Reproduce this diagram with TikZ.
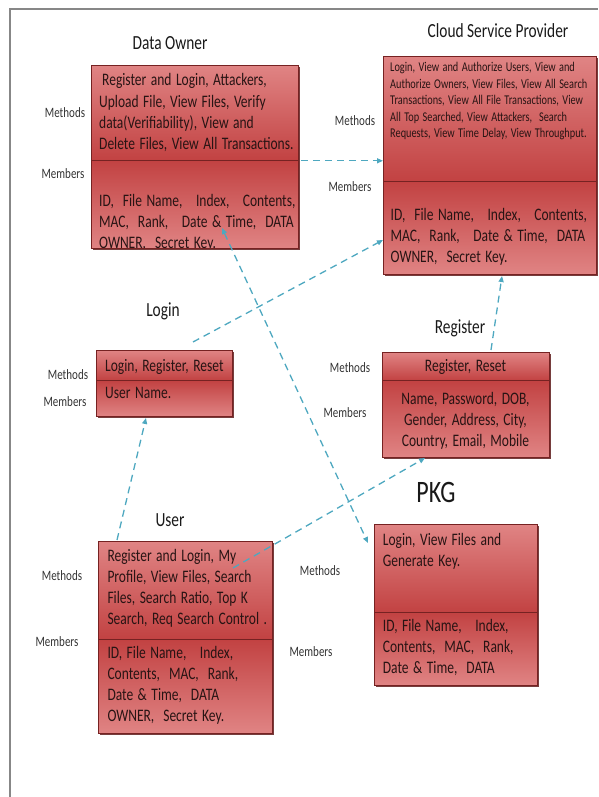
\documentclass[tikz,border=0pt]{standalone}
\usepackage{fontspec}
\setmainfont{Carlito}
\usetikzlibrary{arrows.meta,shadows}
\definecolor{BoxLight}{RGB}{224,132,132}
\definecolor{BoxDark}{RGB}{194,66,66}
\definecolor{BoxEdge}{RGB}{118,34,34}
\definecolor{BoxInk}{RGB}{40,20,20}
\definecolor{FlowCyan}{RGB}{78,168,192}
\definecolor{FrameGray}{RGB}{135,135,135}

\tikzset{
  compart/.style={rectangle, draw=BoxEdge, line width=0.8pt, inner sep=0pt, anchor=north west,
    drop shadow={shadow xshift=1.6pt, shadow yshift=-1.6pt, fill=BoxEdge!80!black, opacity=0.85}},
  methpart/.style={compart, top color=BoxLight, bottom color=BoxDark},
  membpart/.style={compart, top color=BoxDark, bottom color=BoxLight},
  boxtext/.style={inner sep=0pt, yscale=1.3, anchor=base west, align=left, text=BoxInk,
    font=\fontsize{13.5}{16.2}\selectfont},
  smalltext/.style={boxtext, font=\fontsize{10.3}{12.7}\selectfont},
  sidelabel/.style={inner sep=0pt, yscale=1.3, text=black!80, font=\fontsize{11}{13}\selectfont},
  boxtitle/.style={inner sep=0pt, yscale=1.3, text=black!90, font=\fontsize{15.4}{18}\selectfont},
  flow/.style={draw=FlowCyan, line width=1.3pt, dash pattern=on 7pt off 5pt,
    -{Triangle[length=6pt,width=5pt]}},
  flowboth/.style={flow, {Triangle[length=6pt,width=5pt]}-{Triangle[length=6pt,width=5pt]}},
}

\begin{document}
\begin{tikzpicture}[x=1pt,y=-1pt]
  \useasboundingbox (0,0) rectangle (598,797);
  % page frame
  \draw[FrameGray, line width=1.5pt] (10,797) -- (10,9) -- (598,9);

  % Data Owner
  \node[boxtitle] (doTitle) at (170,43) {Data Owner};
  \node[methpart, minimum width=207pt, minimum height=95pt] (doMeth) at (91,65) {};
  \node[membpart, minimum width=207pt, minimum height=88pt] (doMemb) at (91,160) {};
  \node[boxtext, text width=200pt] (doMethTxt) at (99,86)
    {\hspace{3pt}Register and Login, Attackers,\\Upload File, View Files, Verify\\data(Verifiability), View and\\Delete Files, View All Transactions.};
  \begin{scope}
    \clip (doMemb.north west) rectangle ([yshift=1pt]doMemb.south east);
    \node[boxtext, text width=200pt] (doMembTxt) at (99,206)
      {ID,\ \ File Name,\ \ \ Index,\ \ \ Contents,\\MAC,\ \ Rank,\ \ \ Date \& Time,\ \ DATA\\OWNER,\ \ Secret Key.};
  \end{scope}
  \node[sidelabel] (doMethLbl) at (65,113) {Methods};
  \node[sidelabel] (doMembLbl) at (63,174) {Members};

  % Cloud Service Provider
  \node[boxtitle] (cspTitle) at (498,31) {Cloud Service Provider};
  \node[methpart, minimum width=213pt, minimum height=125pt] (cspMeth) at (383,56) {};
  \node[membpart, minimum width=213pt, minimum height=93pt] (cspMemb) at (383,181) {};
  \node[smalltext, text width=205pt] (cspMethTxt) at (390,71.7)
    {Login, View and Authorize Users, View and\\Authorize Owners, View Files, View All Search\\Transactions, View All File Transactions, View\\All Top Searched, View Attackers,\ \ Search\\Requests, View Time Delay, View Throughput.};
  \node[boxtext, text width=205pt] (cspMembTxt) at (390.5,220)
    {ID,\ \ File Name,\ \ \ Index,\ \ \ Contents,\\MAC,\ \ Rank,\ \ \ Date \& Time,\ \ DATA\\OWNER,\ \ Secret Key.};
  \node[sidelabel] (cspMethLbl) at (355,121) {Methods};
  \node[sidelabel] (cspMembLbl) at (350,187) {Members};

  % Login
  \node[boxtitle] (logTitle) at (163,311) {Login};
  \node[methpart, minimum width=136pt, minimum height=30pt] (logMeth) at (96,350) {};
  \node[membpart, minimum width=136pt, minimum height=36pt] (logMemb) at (96,380) {};
  \node[boxtext, text width=130pt] (logMethTxt) at (105,371) {Login, Register, Reset};
  \node[boxtext, text width=130pt] (logMembTxt) at (105,398.3) {User Name.};
  \node[sidelabel] (logMethLbl) at (68,375) {Methods};
  \node[sidelabel] (logMembLbl) at (65,402) {Members};

  % Register
  \node[boxtitle] (regTitle) at (460,328) {Register};
  \node[methpart, minimum width=167pt, minimum height=28pt] (regMeth) at (382,352) {};
  \node[membpart, minimum width=167pt, minimum height=77pt] (regMemb) at (382,380) {};
  \node[boxtext, anchor=base, align=center, text width=167pt] (regMethTxt) at (465.5,371.7) {Register, Reset};
  \node[boxtext, anchor=base, align=center, text width=167pt] (regMembTxt) at (465.5,404.3)
    {Name, Password, DOB,\\Gender, Address, City,\\Country, Email, Mobile};
  \node[sidelabel] (regMethLbl) at (350,368) {Methods};
  \node[sidelabel] (regMembLbl) at (345,413) {Members};

  % User
  \node[boxtitle] (usrTitle) at (170,520) {User};
  \node[methpart, minimum width=174pt, minimum height=98pt] (usrMeth) at (98,541) {};
  \node[membpart, minimum width=174pt, minimum height=94pt] (usrMemb) at (98,639) {};
  \node[boxtext, text width=165pt] (usrMethTxt) at (107.3,561.7)
    {Register and Login, My\\Profile, View Files, Search\\Files, Search Ratio, Top K\\Search, Req Search Control .};
  \node[boxtext, text width=165pt] (usrMembTxt) at (107.3,658.3)
    {ID, File Name,\ \ \ Index,\\Contents,\ \ MAC,\ \ Rank,\\Date \& Time,\ \ DATA\\OWNER,\ \ Secret Key.};
  \node[sidelabel] (usrMethLbl) at (62,576) {Methods};
  \node[sidelabel] (usrMembLbl) at (57,642) {Members};

  % PKG
  \node[boxtitle, font=\fontsize{24}{28}\selectfont] (pkgTitle) at (436,492) {PKG};
  \node[methpart, minimum width=163pt, minimum height=88pt] (pkgMeth) at (374,524) {};
  \node[membpart, minimum width=163pt, minimum height=73pt] (pkgMemb) at (374,612) {};
  \node[boxtext, text width=155pt] (pkgMethTxt) at (382.7,545)
    {Login, View Files and\\Generate Key.};
  \node[boxtext, text width=155pt] (pkgMembTxt) at (382.7,631)
    {ID, File Name,\ \ \ Index,\\Contents,\ \ MAC,\ \ Rank,\\Date \& Time,\ \ DATA};
  \node[sidelabel] (pkgMethLbl) at (320,571) {Methods};
  \node[sidelabel] (pkgMembLbl) at (311,652) {Members};

  % connector ends
  \coordinate (logOut) at (193,342);
  \coordinate (cspIn) at (383,240);
  \coordinate (doIn) at (222,228);
  \coordinate (pkgIn) at (368,543);
  \coordinate (regOut) at (491,350);
  \coordinate (cspBot) at (502,276);
  \coordinate (usrOut) at (117,540);
  \coordinate (logIn) at (146,418);
  \coordinate (usrMid) at (233,568);
  \coordinate (regIn) at (425,458);

  % connectors
  \draw[flow] ([xshift=2pt]doMeth.south east) -- (doMeth.south east -| cspMeth.west);
  \draw[flow] (logOut) -- (cspIn);
  \draw[flowboth] (doIn) -- (pkgIn);
  \draw[flow] (regOut) -- (cspBot);
  \draw[flow] (usrOut) -- (logIn);
  \draw[flow] (usrMid) -- (regIn);
\end{tikzpicture}
\end{document}
